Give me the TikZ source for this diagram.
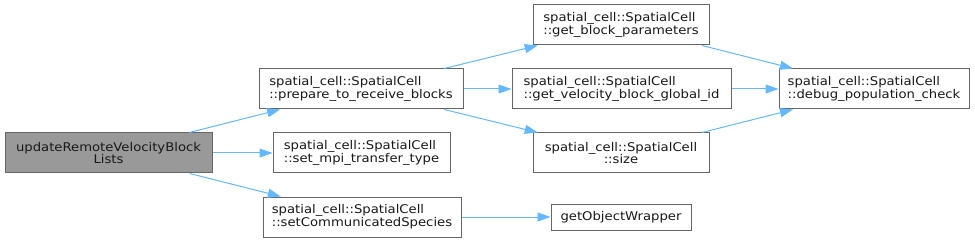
\documentclass[tikz,border=0pt]{standalone}
\usepackage{fontspec}
\setmainfont{DejaVu Sans}[FakeStretch=1.1]
\usepackage{tikz}
\usetikzlibrary{arrows.meta}
\definecolor{edgeblue}{HTML}{63B8FF}
\definecolor{boxgray}{HTML}{666666}
\definecolor{rootfill}{HTML}{999999}

\begin{document}
\begin{tikzpicture}[x=1pt,y=-1pt,
  fn/.style={draw=boxgray,fill=white,line width=1pt,inner sep=0pt,minimum height=40pt,
    align=left,font=\fontsize{12}{12.8}\selectfont,text=black!90},
  rootfn/.style={fn,fill=rootfill,align=center},
  call/.style={edgeblue,line width=1pt,-{Triangle[length=13pt,width=9pt]}}]
  \useasboundingbox (0,0) rectangle (975,243);
  % caller
  \node[rootfn,minimum width=207pt] (update) at (108.5,153) {updateRemoteVelocityBlock\\Lists};
  % first level
  \node[fn,minimum width=204pt] (prepare) at (361,89) {spatial\_cell::SpatialCell\\::prepare\_to\_receive\_blocks};
  \node[fn,minimum width=177pt] (mpitype) at (361.5,153) {spatial\_cell::SpatialCell\\::set\_mpi\_transfer\_type};
  \node[fn,minimum width=198pt] (species) at (362,217) {spatial\_cell::SpatialCell\\::setCommunicatedSpecies};
  % second level
  \node[fn,minimum width=176pt] (blockpar) at (621,25) {spatial\_cell::SpatialCell\\::get\_block\_parameters};
  \node[fn,minimum width=219pt] (globalid) at (621.5,89) {spatial\_cell::SpatialCell\\::get\_velocity\_block\_global\_id};
  \node[fn,minimum width=176pt,align=center] (size) at (621,153) {spatial\_cell::SpatialCell\\::size};
  \node[fn,minimum width=140pt,minimum height=26pt] (wrapper) at (621,217) {getObjectWrapper};
  % third level
  \node[fn,minimum width=190pt] (debug) at (874,89) {spatial\_cell::SpatialCell\\::debug\_population\_check};
  % calls
  \draw[call] (update) -- (prepare);
  \draw[call] (update) -- (mpitype);
  \draw[call] (update) -- (species);
  \draw[call] (prepare) -- (blockpar);
  \draw[call] (prepare) -- (globalid);
  \draw[call] (prepare) -- (size);
  \draw[call] (blockpar) -- (debug);
  \draw[call] (globalid) -- (debug);
  \draw[call] (size) -- (debug);
  \draw[call] (species) -- (wrapper);
\end{tikzpicture}
\end{document}
